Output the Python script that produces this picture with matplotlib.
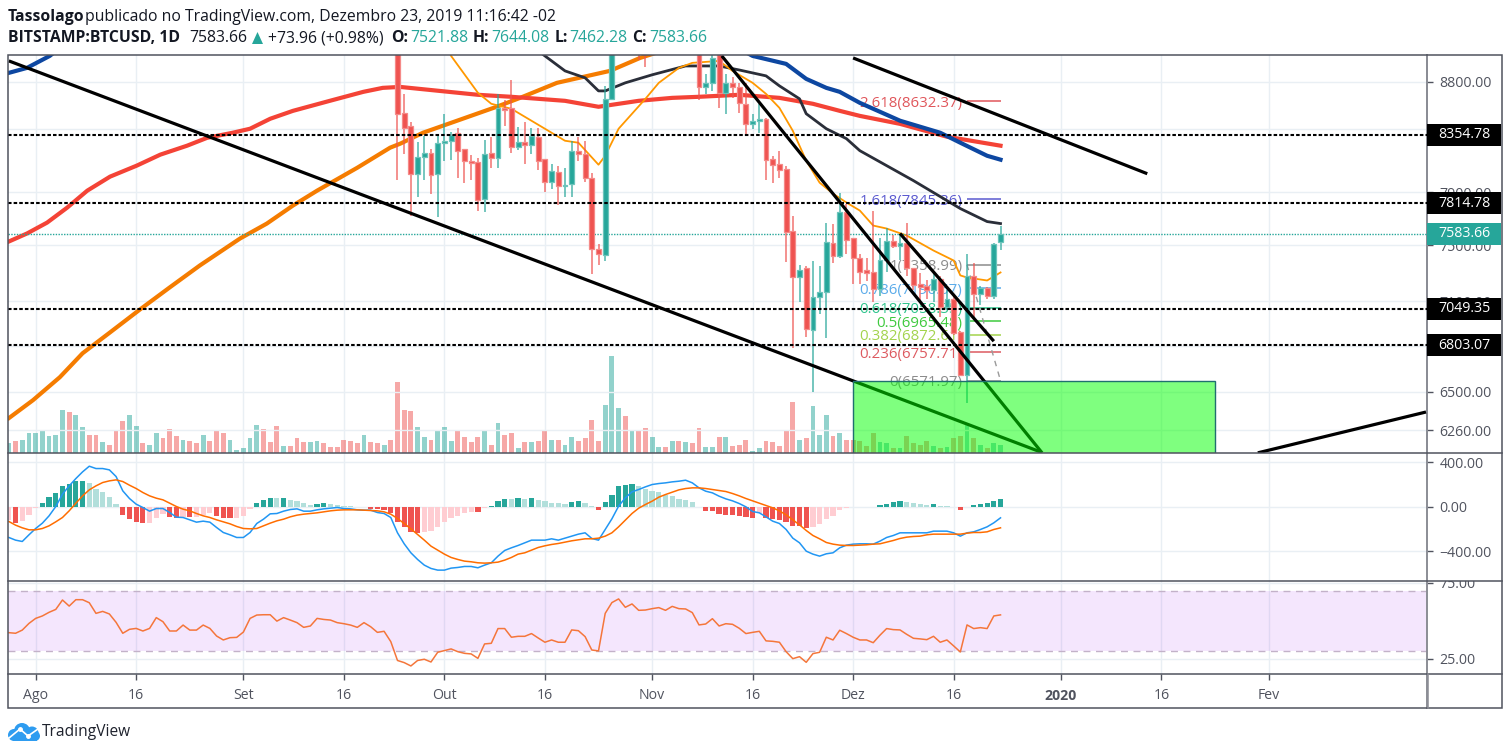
import matplotlib
matplotlib.use("Agg")
import matplotlib.pyplot as plt
from matplotlib.patches import Circle, Rectangle, Polygon
from matplotlib.ticker import NullLocator

plt.rcParams["font.family"] = ["Open Sans", "DejaVu Sans"]

W, H = 1511, 755
UP = "#26a69a"
DOWN = "#ef5350"
TEXT = "#50535e"
GRID = "#e9eff4"

# x values are days counted from 1 Aug 2019
tick_days = [0, 15, 31, 46, 61, 76, 92, 107, 122, 137, 153, 168, 184]
tick_labels = ["Ago", "16", "Set", "16", "Out", "16", "Nov", "16", "Dez", "16", "2020", "16", "Fev"]

candle_start = 54
opens = [9700, 8530, 8430, 8042, 8175, 8208, 8040, 8288, 8305, 8370, 8240, 8146, 8138, 7845, 8205, 8165,
         8575, 8575, 8255, 8295, 8272, 8335, 8160, 7980, 8055, 7945, 7960, 8225, 8200, 8012, 7470, 7430,
         8650, 9250, 9550, 9250, 9420, 9160, 9150, 9240, 9300, 9200, 9400, 9300, 9340,
         9200, 8750, 8790, 9040, 8705, 8790, 8750, 8610, 8445, 8465, 8485, 8160, 8120, 8080, 7608,
         7275, 7335, 6905, 7130, 7165, 7520, 7420, 7748, 7555, 7410, 7320, 7305, 7190, 7390, 7535,
         7498, 7520, 7333, 7225, 7205, 7182, 7260, 7060, 7120, 6890, 6610, 7282, 7155, 7195, 7140, 7521.88]
highs = [9800, 8695, 8462, 8292, 8347, 8242, 8363, 8527, 8380, 8410, 8242, 8195, 8170, 8314, 8340, 8695,
         8645, 8815, 8420, 8462, 8412, 8412, 8160, 8122, 8106, 8090, 8306, 8340, 8306, 8045, 7513, 8765,
         10300, 9800, 9900, 9570, 9440, 9230, 9370, 9370, 9340, 9560, 9470, 9450, 9380,
         9300, 8865, 9070, 9100, 8865, 8840, 8790, 8790, 8525, 8610, 8490, 8180, 8225, 8105, 7715,
         7355, 7350, 7383, 7350, 7668, 7660, 7890, 7810, 7555, 7435, 7405, 7758, 7555, 7625, 7575,
         7582, 7668, 7333, 7300, 7247, 7300, 7280, 7178, 7140, 6900, 7440, 7375, 7210, 7200, 7520, 7644.08]
lows = [7990, 8202, 7721, 7860, 7997, 7888, 7708, 8146, 8154, 8010, 7968, 7997, 7758, 7750, 8090, 8090,
        8430, 8210, 8235, 8122, 8200, 8075, 7900, 7925, 7800, 7860, 7860, 8140, 7975, 7290, 7355, 7383,
        8640, 9200, 9100, 9100, 8990, 8930, 9060, 9180, 9150, 9140, 9180, 9260, 9120,
        8645, 8695, 8720, 8575, 8525, 8660, 8535, 8350, 8405, 8365, 7990, 7970, 8010, 7380, 6783,
        7095, 6857, 6500, 7015, 6850, 7370, 7405, 7440, 7220, 7225, 7240, 7095, 7140, 7305, 7478,
        7390, 7280, 7178, 7108, 7120, 7095, 6990, 7040, 6870, 6600, 6430, 6990, 7075, 7120, 7120, 7462.28]
closes = [8526, 8410, 8042, 8172, 8210, 8034, 8288, 8305, 8355, 8220, 8140, 8130, 7842, 8200, 8165, 8575,
          8560, 8255, 8295, 8270, 8347, 8146, 7980, 8067, 7945, 7958, 8225, 8200, 8012, 7470, 7435, 8650,
          9250, 9550, 9250, 9420, 9160, 9150, 9240, 9300, 9200, 9400, 9300, 9340, 9200,
          8750, 8790, 9005, 8705, 8790, 8750, 8620, 8445, 8470, 8485, 8154, 8115, 8075, 7600, 7275,
          7320, 6910, 7130, 7165, 7528, 7425, 7748, 7540, 7405, 7305, 7300, 7190, 7390, 7535, 7498,
          7520, 7333, 7218, 7198, 7182, 7260, 7060, 7120, 6885, 6610, 7282, 7155, 7195, 7140, 7510, 7583.66]

volume_start = -4
volumes = [10, 12, 13, 20, 20, 23, 17, 18, 43, 41, 38, 26, 18, 18, 11, 8, 22, 32, 38, 27, 10, 8, 20, 15, 24,
           17, 13, 12, 10, 18, 12, 23, 20, 13, 3, 5, 15, 28, 24, 11, 27, 7, 7, 15, 11, 11, 12, 10, 6, 6, 13,
           12, 10, 18, 11, 10, 8, 13, 71, 43, 42, 26, 16, 13, 23, 26, 12, 22, 16, 11, 16, 23, 8, 30, 18, 20,
           5, 11, 11, 12, 22, 13, 13, 8, 16, 12, 15, 33, 12, 48, 97, 45, 37, 22, 22, 25, 16, 6, 6, 12, 12,
           11, 10, 25, 6, 6, 16, 16, 7, 8, 13, 2, 5, 12, 11, 7, 23, 51, 13, 15, 47, 18, 38, 17, 20, 13, 13,
           12, 7, 20, 11, 10, 5, 5, 17, 10, 8, 12, 7, 5, 6, 15, 17, 30, 15, 8, 5, 10, 8]
# days before the first visible candle that closed lower
early_down_days = [-3, 5, 8, 9, 11, 12, 13, 16, 19, 20, 21, 23, 24, 26, 27, 28, 34, 35, 36, 38, 39, 40, 43, 44, 45,
                   46, 47, 48, 50, 51, 53]

macd_start = -4
hist = [-120, -147, -126, -69, -9, 33, 87, 123, 189, 204, 234, 234, 219, 159, 135, 87, 24, -72, -114, -135, -147,
        -146, -102, -66, -90, -102, -90, -93, -90, -69, -57, -81, -102, -103, -102, -81, -21, 33, 66, 78, 76, 78,
        66, 54, 33, 20, 22, 33, 22, 21, 12, 11, 0, 0, -15, -21, -24, -54, -138, -183, -228, -240, -228, -219,
        -183, -138, -105, -81, -57, -45, -48, -12, 12, 51, 75, 74, 76, 75, 76, 63, 51, 39, 31, 30, 42, 54, 36, 12,
        -27, 42, 111, 189, 201, 210, 189, 162, 147, 132, 105, 99, 72, 66, 42, 0, -39, -40, -60, -72, -73, -84, -96,
        -97, -54, -99, -114, -115, -138, -174, -175, -195, -183, -156, -114, -81, -24, -12, 0, 0, 0, 0, 21, 30, 42,
        54, 42, 31, 30, 20, 22, 12, 11, 0, -27, 0, 21, 30, 31, 54, 75]
macd_line = [-276, -300, -312, -252, -195, -147, -81, 3, 114, 189, 255, 315, 366, 345, 345, 333, 273, 144, 75, 24,
             -6, -39, -15, -15, -51, -93, -96, -117, -138, -129, -138, -186, -231, -252, -276, -276, -231, -150,
             -111, -63, -60, -39, -24, -18, -39, -39, -27, -18, -12, -6, -15, -18, -27, -30, -30, -51, -60, -96,
             -234, -333, -414, -474, -525, -555, -570, -570, -552, -546, -537, -537, -549, -525, -504, -444, -393,
             -369, -348, -324, -300, -300, -300, -288, -300, -282, -264, -246, -234, -285, -300, -204, -108, 6, 81,
             135, 156, 180, 201, 210, 216, 225, 231, 240, 216, 171, 141, 126, 96, 72, 54, 30, 0, -42, -54, -90,
             -129, -150, -204, -282, -324, -399, -426, -444, -423, -414, -369, -345, -336, -333, -333, -336, -309,
             -276, -258, -234, -234, -234, -234, -234, -219, -219, -219, -234, -264, -234, -225, -204, -180, -144,
             -99]
signal_line = [-132, -165, -189, -207, -207, -195, -171, -135, -96, -36, 33, 99, 153, 189, 219, 234, 243, 228, 195,
               165, 129, 99, 78, 63, 33, 3, -21, -36, -60, -81, -96, -117, -135, -153, -177, -195, -198, -195, -171,
               -147, -126, -111, -90, -75, -66, -60, -54, -45, -36, -30, -27, -27, -27, -30, -33, -36, -45, -66,
               -105, -150, -198, -249, -300, -354, -390, -426, -456, -474, -489, -495, -504, -507, -504, -498, -480,
               -456, -426, -414, -390, -366, -351, -339, -330, -318, -306, -297, -288, -288, -282, -264, -234, -180,
               -120, -60, -12, 21, 51, 87, 111, 132, 153, 165, 171, 171, 165, 156, 147, 138, 120, 99, 75, 54, 33, 12,
               -9, -36, -72, -117, -162, -213, -258, -288, -321, -336, -345, -348, -348, -345, -342, -336, -333,
               -318, -303, -285, -273, -267, -264, -252, -246, -246, -246, -246, -246, -237, -231, -231, -225, -204,
               -189]

rsi_start = -4
rsi = [42.3, 41.9, 44, 48.4, 51.7, 53.3, 55.7, 57.6, 63.8, 59.8, 64, 64, 62, 55, 56.3, 54.6, 49.1, 41.9, 44.5, 45.1,
       43.4, 45.1, 52.2, 49.5, 43.4, 43.4, 47.3, 44, 44, 47.3, 45.1, 40.1, 37.5, 39, 39.2, 42.7, 51.7, 53.9, 54.1,
       54.1, 49.9, 52.2, 50.6, 48.9, 45.8, 46.7, 51.7, 51, 50.6, 48.9, 48.2, 47.3, 45.8, 48.9, 46.2, 42.5, 43.2, 36.4,
       24, 22.6, 20.4, 24, 24.8, 23, 29.4, 30.5, 31.6, 29.8, 28.7, 28.3, 25.4, 34.9, 35.3, 45, 45, 39.3, 39.9, 39.9,
       41.7, 38.8, 36, 37.5, 36, 36, 44.1, 43.6, 39.7, 30.9, 30.3, 55, 62.1, 64.5, 59, 61.2, 57, 57.2, 58.1, 58.8, 57,
       59.6, 58.1, 57.9, 55.5, 47.4, 48, 51.5, 46.7, 48.2, 47.8, 45.2, 41.7, 42.5, 43.2, 36.9, 36.6, 36, 29.8, 25.2,
       26.5, 22.8, 28.5, 29.4, 39.3, 37.5, 43.9, 41.7, 39.3, 37.5, 37.5, 35.7, 40.6, 45, 44.3, 44.1, 41.2, 38.6, 38.2,
       37.7, 39.9, 36, 37.5, 33.6, 29.6, 47.4, 45, 45.6, 45, 53.3, 54]

# moving averages, read at the bends
ma_red_days = [-4, -1.3, 1.7, 4.7, 7.7, 11.1, 15.1, 18.6, 22.6, 25.6, 29.4, 32, 35, 38.4, 43.9, 48.9, 51.8, 54.4,
               66, 71, 79, 84, 90, 95, 99, 105, 111, 116, 120, 123, 129, 136, 144]
ma_red = [7528, 7587, 7668, 7781, 7911, 8020, 8107, 8194, 8266, 8330, 8371, 8404, 8486, 8552, 8636, 8712, 8746, 8754,
          8687, 8670, 8636, 8586, 8636, 8661, 8670, 8687, 8661, 8611, 8552, 8510, 8444, 8339, 8266]
ma_orange_days = [-4, -0.4, 3.6, 7, 11.1, 15.6, 20, 24.5, 30.5, 34.5, 38.4, 42, 48, 52.9, 54.4, 57.8, 68.8, 72.3, 77.8,
                  85.7, 90.2, 98]
ma_orange = [6336, 6448, 6594, 6750, 6889, 7046, 7198, 7354, 7550, 7661, 7797, 7911, 8090, 8250, 8282, 8371, 8586, 8661,
             8789, 8892, 9005, 9155]
ma_blue_days = [-4, -1.3, 2.1, 10, 30, 60, 90, 100, 107, 112, 115, 118, 120, 123, 129, 135, 138, 142, 144]
ma_blue = [8875, 8918, 9023, 9400, 9800, 10000, 9600, 9250, 9023, 8953, 8823, 8746, 8712, 8619, 8470, 8371, 8290, 8185, 8154]
ma_dark_days = [60, 70, 76, 79, 82, 84, 85, 88, 92, 97, 102, 105, 109, 111, 114, 115, 118, 121, 123, 131, 138, 142, 144]
ma_dark = [9800, 9300, 9023, 8892, 8832, 8720, 8720, 8789, 8858, 8935, 8935, 8900, 8849, 8763, 8653, 8528, 8404, 8323,
           8226, 7989, 7774, 7676, 7661]
ma_thin_days = [55, 62, 66, 68, 71, 76, 79, 81, 84, 85, 87, 91, 93, 96, 98, 102, 104, 107, 109, 111, 113, 115, 117, 119,
                121, 123, 125, 127, 130, 134, 137, 138, 139, 142, 144]
ma_thin = [9900, 9023, 8704, 8611, 8569, 8404, 8306, 8290, 8114, 8185, 8404, 8653, 8789, 8918, 8962, 8979, 8892, 8789,
           8695, 8577, 8387, 8146, 7973, 7888, 7820, 7759, 7646, 7624, 7572, 7462, 7390, 7283, 7268, 7247, 7304]

levels = [8354.78, 7814.78, 7049.35, 6803.07]
last_price = 7583.66

trend_days = [(-4, 150), (102.4, 150.2), (129, 143), (122, 165.9), (182.4, 207.5)]
trend_prices = [(8979, 6130), (9023, 6125), (7587, 6830), (9005, 8043), (6125, 6374)]

fib_labels = ["2.618", "1.618", "1", "0.786", "0.618", "0.5", "0.382", "0.236", "0"]
fib_prices = [8632.37, 7845.36, 7358.99, 7190.57, 7058.35, 6965.48, 6872.61, 6757.71, 6571.97]
fib_colors = ["#e0565b", "#5a5ad0", "#8c8c8c", "#5cacea", "#2fc48d", "#3fca3f", "#a3d34c", "#dd5a60", "#8c8c8c"]

zone_days = (122, 176)
zone_top = 6571.97

price_ticks = [8800, 8400, 7900, 7500, 7100, 6800, 6500, 6260]
price_tick_labels = ["8800.00", "", "7900.00", "7500.00", "7100.00", "", "6500.00", "6260.00"]
macd_ticks = [400, 0, -400]
rsi_ticks = [75, 25]


def pane(top, bottom):
    ax = fig.add_axes([8 / W, 1 - bottom / H, (1427 - 8) / W, (bottom - top) / H])
    ax.set_xlim(-4.13, 207.65)
    ax.set_xticks(tick_days)
    ax.tick_params(axis="x", length=0, labelbottom=False)
    ax.grid(True, color=GRID, lw=1)
    ax.set_axisbelow(True)
    ax.yaxis.tick_right()
    ax.tick_params(axis="y", length=4, width=1, color=TEXT, labelcolor=TEXT, labelsize=10.2, pad=5)
    for side in ("top", "bottom", "left"):
        ax.spines[side].set_visible(False)
    ax.spines["right"].set_color("#8b8d95")
    ax.spines["right"].set_linewidth(1.4)
    return ax


def price_flag(ax, price, text, color):
    # label box on the price scale, lined up with the level through the axis transform
    tr = ax.get_yaxis_transform()
    ax.plot([1.0, 1 + 74 / 1419], [price, price], transform=tr, color=color, lw=22 * 0.72,
            solid_capstyle="butt", clip_on=False, zorder=8)
    ax.text(1 + 11 / 1419, price, text, transform=tr, color="white", fontsize=10.2, va="center", ha="left",
            zorder=9, clip_on=False)


fig = plt.figure(figsize=(W / 100, H / 100), dpi=100, facecolor="white")

# main pane
ax_vol = pane(55, 453)
ax_vol.set_ylim(0, 398)
ax_vol.yaxis.set_visible(False)
ax_vol.grid(False, axis="y")
ax_vol.set_zorder(1)
ax = pane(55, 453)
ax.set_zorder(2)
ax.patch.set_visible(False)
ax.grid(False, axis="x")
ax.set_yscale("log")
ax.set_ylim(6124, 9031)
ax.set_yticks(price_ticks)
ax.set_yticklabels(price_tick_labels)
ax.yaxis.set_minor_locator(NullLocator())

vol_days = range(volume_start, volume_start + len(volumes))
vol_up = []
for d in vol_days:
    if d < candle_start:
        vol_up.append(d not in early_down_days)
    else:
        vol_up.append(closes[d - candle_start] >= opens[d - candle_start])
ax_vol.bar(vol_days, volumes, width=0.72, color=[UP if u else DOWN for u in vol_up], alpha=0.5, lw=0)

ax.plot(ma_orange_days, ma_orange, color="#f57c00", lw=3.0, zorder=3)
ax.plot(ma_red_days, ma_red, color="#f44336", lw=3.0, zorder=3)
ax.plot(ma_blue_days, ma_blue, color="#0d47a1", lw=3.0, zorder=3)
ax.plot(ma_dark_days, ma_dark, color="#2a2e39", lw=2.0, zorder=3)
ax.plot(ma_thin_days, ma_thin, color="#ff9800", lw=1.3, zorder=3)

for label, price, color in zip(fib_labels, fib_prices, fib_colors):
    ax.hlines(price, 139, 144, color=color, lw=1.1, zorder=2)
    ax.annotate(f"{label}({price:.2f})", (138.3, price), xytext=(0, -1.5), textcoords="offset points",
                color=color, fontsize=10.8, ha="right", va="center", zorder=2)
ax.plot([139, 144], [fib_prices[2], fib_prices[8]], color="#9a9a9a", lw=1, ls=(0, (4, 4)), zorder=2)

c_days = list(range(candle_start, candle_start + len(closes)))
c_colors = [UP if c >= o else DOWN for o, c in zip(opens, closes)]
c_edges = ["#6cc4bb" if c >= o else "#f58a88" for o, c in zip(opens, closes)]
ax.vlines(c_days, lows, highs, colors=c_colors, lw=1.2, alpha=0.75, zorder=4)
ax.bar(c_days, [abs(c - o) for o, c in zip(opens, closes)], bottom=[min(o, c) for o, c in zip(opens, closes)],
       width=0.72, color=c_colors, edgecolor=c_edges, lw=0.9, zorder=5)

for days, prices in zip(trend_days, trend_prices):
    ax.plot(days, prices, color="black", lw=2.3, zorder=6, solid_capstyle="butt")
ax.hlines(levels, -4.13, 207.65, color="black", lw=1.5, ls=(0, (1.7, 1.0)), zorder=6)
ax.axhline(last_price, color=UP, lw=1, ls=(0, (1, 1)), zorder=3)

ax.add_patch(Rectangle((zone_days[0], 6000), zone_days[1] - zone_days[0], zone_top - 6000, facecolor="#00ff00",
                       alpha=0.5, edgecolor="none", zorder=7))
ax.add_patch(Rectangle((zone_days[0], 6000), zone_days[1] - zone_days[0], zone_top - 6000, fill=False,
                       edgecolor="#1f6f6f", lw=1, zorder=7))

for level in levels:
    price_flag(ax, level, f"{level:.2f}", "black")
price_flag(ax, last_price, f"{last_price:.2f}", UP)

# MACD pane
ax_macd = pane(453, 581)
ax_macd.set_ylim(-668, 485)
ax_macd.set_yticks(macd_ticks)
ax_macd.set_yticklabels(["400.00", "0.00", "\u2212400.00"])
macd_days = list(range(macd_start, macd_start + len(hist)))
hist_colors = []
for i, v in enumerate(hist):
    prev = hist[i - 1] if i else v
    if v >= 0:
        hist_colors.append(UP if v >= prev else "#b2dfdb")
    else:
        hist_colors.append("#ffcdd2" if v >= prev else DOWN)
ax_macd.bar(macd_days, hist, width=0.78, color=hist_colors, lw=0, zorder=2)
ax_macd.plot(macd_days, macd_line, color="#2196f3", lw=1.1, zorder=3)
ax_macd.plot(macd_days, signal_line, color="#ff6d00", lw=1.1, zorder=3)

# RSI pane
ax_rsi = pane(581, 674)
ax_rsi.set_ylim(15.1, 76.3)
ax_rsi.set_yticks(rsi_ticks)
ax_rsi.set_yticklabels(["75.00", "25.00"])
ax_rsi.axhspan(30, 70, color="#a020f0", alpha=0.11, lw=0, zorder=1)
for band in (30, 70):
    ax_rsi.axhline(band, color="#c3b2c9", lw=1, ls=(0, (5, 4)), zorder=2)
ax_rsi.plot(range(rsi_start, rsi_start + len(rsi)), rsi, color="#f4763b", lw=1.1, zorder=3)

# time axis strip
ax_time = pane(674, 708)
ax_time.set_ylim(0, 1)
ax_time.yaxis.set_visible(False)
ax_time.grid(False)
ax_time.tick_params(axis="x", length=4, width=1, color=TEXT, direction="in", top=True, bottom=False)
for day, label in zip(tick_days, tick_labels):
    ax_time.text(day, 0.36, label, color=TEXT, fontsize=10.2, ha="center", va="center",
                 fontweight="bold" if label == "2020" else "normal")

# frame, separators and logo in pixel coordinates
chrome = fig.add_axes([0, 0, 1, 1], zorder=20)
chrome.set_xlim(0, W)
chrome.set_ylim(H, 0)
chrome.axis("off")
chrome.add_patch(Rectangle((1428, 570), 74, 11, facecolor="white", lw=0))
chrome.add_patch(Rectangle((8, 55), 1494, 653, fill=False, edgecolor="#50535e", lw=1.1))
for y in (453, 581, 674):
    chrome.plot([8, 1502], [y, y], color="#50535e", lw=1.1)
chrome.plot([1427.5, 1427.5], [674, 708], color="#8b8d95", lw=1.1)

for cx, cy, r in [(14, 735, 6), (22, 731, 8), (32, 733, 6.5), (35, 736, 5)]:
    chrome.add_patch(Circle((cx, cy), r, facecolor="#2e9cf0", lw=0))
chrome.add_patch(Rectangle((13, 733), 24, 8, facecolor="#2e9cf0", lw=0))
chrome.plot([9, 20, 28, 38], [738, 729, 736, 729], color="white", lw=1.2)
chrome.plot([20, 28], [729, 736], "o", color="white", ms=2.5)
chrome.text(42, 732, "TradingView", color="#1e222d", fontsize=11.2, va="center")

# header text placed by x pixel
HEAD = "#131722"
FS = 11.35
chrome.text(8, 17, "Tassolago", color=HEAD, fontsize=FS, fontweight="bold", va="center")
chrome.text(85, 17, "publicado no TradingView.com, Dezembro 23, 2019 11:16:42 -02", color=HEAD, fontsize=FS, va="center")
chrome.text(8, 38.5, "BITSTAMP:BTCUSD, 1D", color=HEAD, fontsize=FS, fontweight="bold", va="center")
chrome.text(189, 38.5, "7583.66", color=HEAD, fontsize=FS, va="center")
chrome.add_patch(Polygon([[252, 44], [263, 44], [257.5, 32]], facecolor=UP, lw=0))
chrome.text(268, 38.5, "+73.96 (+0.98%)", color=HEAD, fontsize=FS, va="center")
for x_key, key, x_val, val in [(391, "O:", 410, "7521.88"), (473, "H:", 491, "7644.08"),
                               (555, "L:", 569, "7462.28"), (632, "C:", 649, "7583.66")]:
    chrome.text(x_key, 38.5, key, color=HEAD, fontsize=FS, fontweight="bold", va="center")
    chrome.text(x_val, 38.5, val, color=UP, fontsize=FS, va="center")

fig.savefig("out.png", dpi=100, facecolor="white")
